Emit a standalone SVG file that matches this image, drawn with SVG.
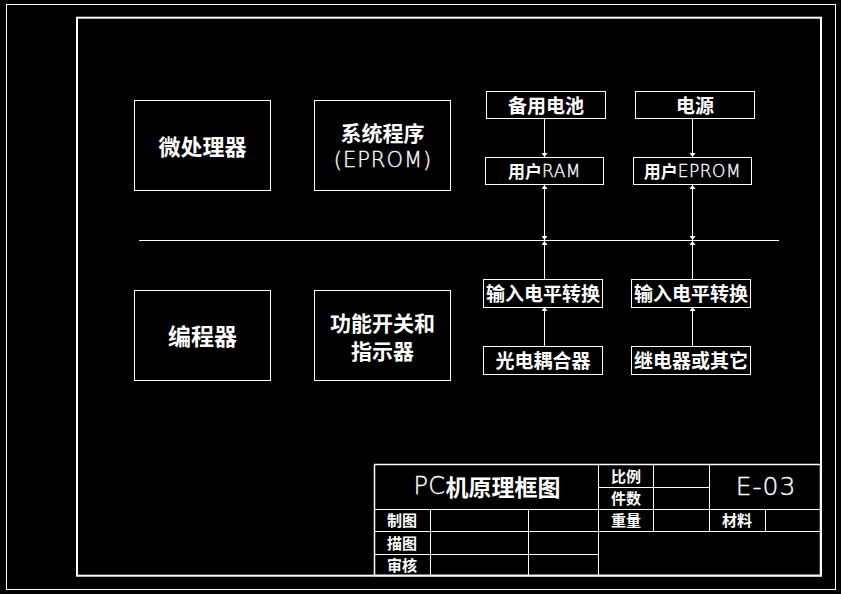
<svg xmlns="http://www.w3.org/2000/svg" width="841" height="594" viewBox="0 0 841 594">
<style>
.bg{fill:#000}
.box{fill:none;stroke:#fff;stroke-width:1}
.ln{fill:none;stroke:#fff;stroke-width:1}
.tb{fill:none;stroke:#fff;stroke-width:1.5}
.t{fill:#fff;font-family:"Noto Sans CJK SC","Noto Sans",sans-serif;font-weight:bold;text-anchor:middle;dominant-baseline:central}
.lat{font-family:"DejaVu Sans","Liberation Sans",sans-serif;font-weight:200;stroke:#fff;stroke-width:0.35;letter-spacing:0.5px}
.thin{fill:#fff;font-family:"DejaVu Sans","Liberation Sans",sans-serif;font-weight:200;stroke:#fff;stroke-width:0.35;letter-spacing:1px;text-anchor:middle;dominant-baseline:central}
</style>
<defs>
<marker id="ah" viewBox="0 0 4 6" refX="4" refY="3" markerWidth="4" markerHeight="6" orient="auto" markerUnits="userSpaceOnUse">
<path d="M0,0 L4,3 L0,6 z" fill="#fff"/>
</marker>
</defs>
<rect class="bg" x="0" y="0" width="841" height="594"/>
<rect class="ln" x="6.5" y="4.5" width="829" height="585"/>
<rect x="77" y="17.7" width="744" height="558" fill="none" stroke="#fff" stroke-width="2"/>

<g id="connectors">
<line class="ln" x1="139" y1="240.5" x2="779" y2="240.5"/>
<line class="ln" x1="544.5" y1="119" x2="544.5" y2="157" marker-end="url(#ah)"/>
<line class="ln" x1="544.5" y1="240" x2="544.5" y2="185" marker-end="url(#ah)"/>
<line class="ln" x1="544.5" y1="185" x2="544.5" y2="240" marker-end="url(#ah)"/>
<line class="ln" x1="544.5" y1="279" x2="544.5" y2="241" marker-end="url(#ah)"/>
<line class="ln" x1="544.5" y1="346" x2="544.5" y2="307" marker-end="url(#ah)"/>
<line class="ln" x1="692.5" y1="119" x2="692.5" y2="157" marker-end="url(#ah)"/>
<line class="ln" x1="692.5" y1="240" x2="692.5" y2="185" marker-end="url(#ah)"/>
<line class="ln" x1="692.5" y1="185" x2="692.5" y2="240" marker-end="url(#ah)"/>
<line class="ln" x1="692.5" y1="279" x2="692.5" y2="241" marker-end="url(#ah)"/>
<line class="ln" x1="692.5" y1="346" x2="692.5" y2="307" marker-end="url(#ah)"/>
</g>

<g id="cpu">
<rect class="box" x="134.5" y="100.5" width="136" height="90"/>
<text class="t" x="202.5" y="144.5" font-size="22">微处理器</text>
</g>
<g id="sysprog">
<rect class="box" x="314.5" y="100.5" width="136" height="90"/>
<text class="t" x="382.5" y="131.5" font-size="21">系统程序</text>
<text class="thin" x="383" y="160" font-size="21">(EPROM)</text>
</g>
<g id="programmer">
<rect class="box" x="134.5" y="290.5" width="136" height="90"/>
<text class="t" x="202.5" y="334.5" font-size="23">编程器</text>
</g>
<g id="switches">
<rect class="box" x="314.5" y="290.5" width="136" height="90"/>
<text class="t" x="382.5" y="321.5" font-size="21">功能开关和</text>
<text class="t" x="382.5" y="350" font-size="21">指示器</text>
</g>
<g id="battery">
<rect class="box" x="486.5" y="91.5" width="119" height="27"/>
<text class="t" x="546" y="104" font-size="19">备用电池</text>
</g>
<g id="power">
<rect class="box" x="635.5" y="91.5" width="119" height="27"/>
<text class="t" x="695" y="104" font-size="19">电源</text>
</g>
<g id="ram">
<rect class="box" x="485.5" y="157.5" width="118" height="27"/>
<text class="t" x="544.5" y="170.5" font-size="17">用户<tspan class="lat">RAM</tspan></text>
</g>
<g id="eprom">
<rect class="box" x="633.5" y="157.5" width="118" height="27"/>
<text class="t" x="692.5" y="170.5" font-size="17">用户<tspan class="lat">EPROM</tspan></text>
</g>
<g id="level1">
<rect class="box" x="483.5" y="279.5" width="119" height="28"/>
<text class="t" x="543" y="292.5" font-size="19">输入电平转换</text>
</g>
<g id="level2">
<rect class="box" x="631.5" y="279.5" width="119" height="28"/>
<text class="t" x="691" y="292.5" font-size="19">输入电平转换</text>
</g>
<g id="opto">
<rect class="box" x="483.5" y="346.5" width="119" height="28"/>
<text class="t" x="543" y="359.5" font-size="19">光电耦合器</text>
</g>
<g id="relay">
<rect class="box" x="631.5" y="346.5" width="119" height="28"/>
<text class="t" x="691" y="359.5" font-size="19">继电器或其它</text>
</g>

<g id="titleblock">
<rect class="tb" x="374.5" y="464.5" width="446" height="111"/>
<line class="ln" x1="374.5" y1="509.5" x2="820.5" y2="509.5"/>
<line class="ln" x1="374.5" y1="531.5" x2="820.5" y2="531.5"/>
<line class="ln" x1="374.5" y1="554.5" x2="598.5" y2="554.5"/>
<line class="ln" x1="598.5" y1="487.5" x2="709.5" y2="487.5"/>
<line class="ln" x1="430.5" y1="509.5" x2="430.5" y2="575.5"/>
<line class="ln" x1="528.5" y1="509.5" x2="528.5" y2="575.5"/>
<line class="ln" x1="598.5" y1="464.5" x2="598.5" y2="575.5"/>
<line class="ln" x1="653.5" y1="464.5" x2="653.5" y2="531.5"/>
<line class="ln" x1="709.5" y1="464.5" x2="709.5" y2="531.5"/>
<line class="ln" x1="765.5" y1="509.5" x2="765.5" y2="531.5"/>
<text class="t" x="487" y="485.5" font-size="23"><tspan class="lat" font-size="24" letter-spacing="4px">PC</tspan>机原理框图</text>
<text class="thin" x="766" y="486" font-size="25" letter-spacing="3px">E-03</text>
<text class="t" x="626" y="475" font-size="15">比例</text>
<text class="t" x="626" y="497" font-size="15">件数</text>
<text class="t" x="626" y="519.5" font-size="15">重量</text>
<text class="t" x="737" y="519.5" font-size="15">材料</text>
<text class="t" x="402" y="519.5" font-size="15">制图</text>
<text class="t" x="402" y="542" font-size="15">描图</text>
<text class="t" x="402" y="564" font-size="15">审核</text>
</g>
</svg>
